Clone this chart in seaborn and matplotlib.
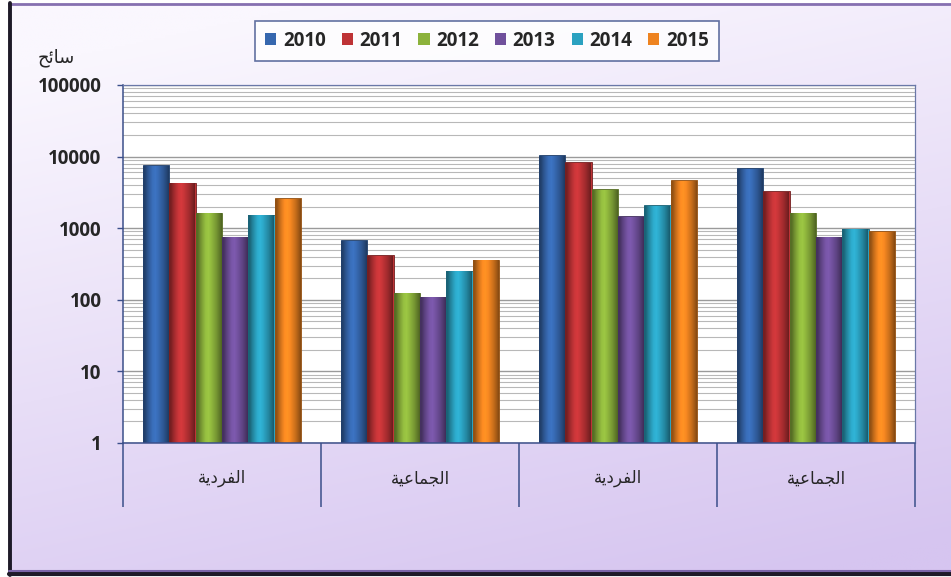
import matplotlib
matplotlib.use("Agg")
import matplotlib.pyplot as plt
import matplotlib.colors as mcolors
from matplotlib.patches import Rectangle
from matplotlib.ticker import FixedLocator, NullFormatter
import seaborn as sns
import pandas as pd
import numpy as np

# Arabic labels written in presentation forms, visual (left-to-right) order,
# because matplotlib does not shape Arabic text
label_fardiya = "\uFE94\uFEF3\uFEA9\uFEAE\uFED4\uFEDF\uFE8D"         # الفردية
label_jamaiya = "\uFE94\uFEF4\uFECB\uFE8E\uFEE4\uFEA0\uFEDF\uFE8D"   # الجماعية
label_unit = "\uFEA2\uFE8B\uFE8E\uFEB3"                              # سائح

groups = ["g1", "g2", "g3", "g4"]
group_labels = [label_fardiya, label_jamaiya, label_fardiya, label_jamaiya]
years = ["2010", "2011", "2012", "2013", "2014", "2015"]

v2010 = [7600, 680, 10500, 6900]
v2011 = [4300, 420, 8400, 3300]
v2012 = [1650, 125, 3500, 1650]
v2013 = [760, 110, 1480, 760]
v2014 = [1530, 255, 2100, 980]
v2015 = [2600, 360, 4700, 910]

year_colors = ["#3667AE", "#BE3336", "#8CB23C", "#70509C", "#2BA1C0", "#EE8320"]

rows = []
for yr, vals in zip(years, [v2010, v2011, v2012, v2013, v2014, v2015]):
    for g, v in zip(groups, vals):
        rows.append({"group": g, "year": yr, "value": v})
df = pd.DataFrame(rows)

sns.set_style("white")
plt.rcParams["font.family"] = ["Open Sans", "DejaVu Sans"]

fig = plt.figure(figsize=(9.51, 5.77), dpi=100)
fig.patch.set_facecolor("white")

# lavender gradient panel behind everything
bg = fig.add_axes([0, 0, 1, 1], zorder=-10)
bg.axis("off")
grad = np.linspace(0, 1, 256)
gx, gy = np.meshgrid(grad, grad)
t = np.clip(gx * 0.3 + gy * 0.85 - 0.1, 0, 1)
c_top = np.array(mcolors.to_rgb("#FAF7FE"))
c_bot = np.array(mcolors.to_rgb("#D6C5F0"))
img = c_top[None, None, :] * (1 - t[..., None]) + c_bot[None, None, :] * t[..., None]
bg.imshow(img, extent=[9, 951, 574, 3], aspect="auto", zorder=0)
bg.set_xlim(0, 951)
bg.set_ylim(577, 0)
bg.plot([9, 951], [3.5, 3.5], color="#8670B0", lw=2.0, zorder=2)
bg.plot([9.5, 9.5], [3, 575], color="#1E1A28", lw=2.8, zorder=2)
bg.plot([9, 951], [574, 574], color="#1E1A28", lw=3.0, zorder=2)
bg.plot([9, 951], [570.5, 570.5], color="#7A64A8", lw=1.5, zorder=2)

ax = fig.add_axes([123 / 951, 1 - 443 / 577, 792 / 951, 358 / 577])
ax.set_facecolor("white")

sns.barplot(data=df, x="group", y="value", hue="year", order=groups,
            hue_order=years, palette=year_colors, width=0.8, ax=ax,
            saturation=1, edgecolor="none")
ax.set_yscale("log")
ax.set_ylim(1, 100000)
ax.set_xlim(-0.5, 3.5)

# bevelled look: horizontal shading clipped to each bar
profile = np.array([0.62, 0.8, 0.95, 1.08, 1.12, 1.05, 0.95, 0.85, 0.72, 0.58])
for patch in list(ax.patches):
    h = patch.get_height()
    if not np.isfinite(h) or h <= 1:
        continue
    base = np.array(mcolors.to_rgb(patch.get_facecolor()))
    x0 = patch.get_x()
    w = patch.get_width()
    clip = Rectangle((x0, 1), w, h - 1, transform=ax.transData)
    shade = np.clip(base[None, :] * profile[:, None], 0, 1)[None, :, :]
    bi = ax.imshow(shade, extent=[x0, x0 + w, 1, h], aspect="auto",
                   interpolation="bilinear", zorder=patch.get_zorder() + 0.1)
    bi.set_clip_path(clip)
    patch.set_edgecolor(tuple(base * 0.6))
    patch.set_linewidth(0.6)
ax.set_aspect("auto")
ax.set_xlim(-0.5, 3.5)
ax.set_ylim(1, 100000)

# grid lines (major and minor on log axis)
ax.yaxis.set_major_locator(FixedLocator([1, 10, 100, 1000, 10000, 100000]))
minors = [m * 10 ** e for e in range(0, 5) for m in range(2, 10)]
ax.yaxis.set_minor_locator(FixedLocator(minors))
ax.yaxis.set_minor_formatter(NullFormatter())
ax.set_yticklabels(["1", "10", "100", "1000", "10000", "100000"])
ax.grid(True, axis="y", which="major", color="#9A9A9A", linewidth=1.0)
ax.grid(True, axis="y", which="minor", color="#B8B8B8", linewidth=0.8)
ax.grid(False, axis="x")
ax.set_axisbelow(True)

for lbl in ax.get_yticklabels():
    lbl.set_fontweight("bold")
    lbl.set_fontsize(13.5)
ax.tick_params(axis="y", which="major", left=True, length=4.5, width=1,
               color="#3B4F8A", direction="out", pad=11)
ax.tick_params(axis="y", which="minor", left=False, length=0)

# category boxes under the plot
ax.set_xticks([0, 1, 2, 3])
ax.set_xticklabels(group_labels, family=["DejaVu Sans"], fontsize=12)
ax.tick_params(axis="x", which="major", length=0, pad=19)
ax.set_xticks([-0.5, 0.5, 1.5, 2.5, 3.5], minor=True)
ax.tick_params(axis="x", which="minor", bottom=True, length=46, width=1.1,
               color="#3B4F8A", direction="out")

for side in ["top", "right"]:
    ax.spines[side].set_color("#6A78A8")
    ax.spines[side].set_linewidth(0.9)
for side in ["left", "bottom"]:
    ax.spines[side].set_color("#3B4F8A")
    ax.spines[side].set_linewidth(1.1)

ax.set_xlabel("")
ax.set_ylabel("")

# legend in a box above the plot
handles, labels = ax.get_legend_handles_labels()
ax.get_legend().remove()
leg = fig.legend(handles, labels, loc="center", bbox_to_anchor=(487 / 951, 1 - 41 / 577),
                 ncol=6, frameon=True, fancybox=False, edgecolor="#3B4F8A",
                 facecolor="white", handlelength=0.6, handleheight=0.6,
                 handletextpad=0.35, columnspacing=0.85, borderpad=0.55,
                 borderaxespad=0, prop={"weight": "bold", "size": 13.5})
leg.get_frame().set_linewidth(1.2)

fig.text(56 / 951, 1 - 58 / 577, label_unit, family=["DejaVu Sans"], fontsize=13,
         ha="center", va="center")

fig.savefig("out.png", dpi=100)
